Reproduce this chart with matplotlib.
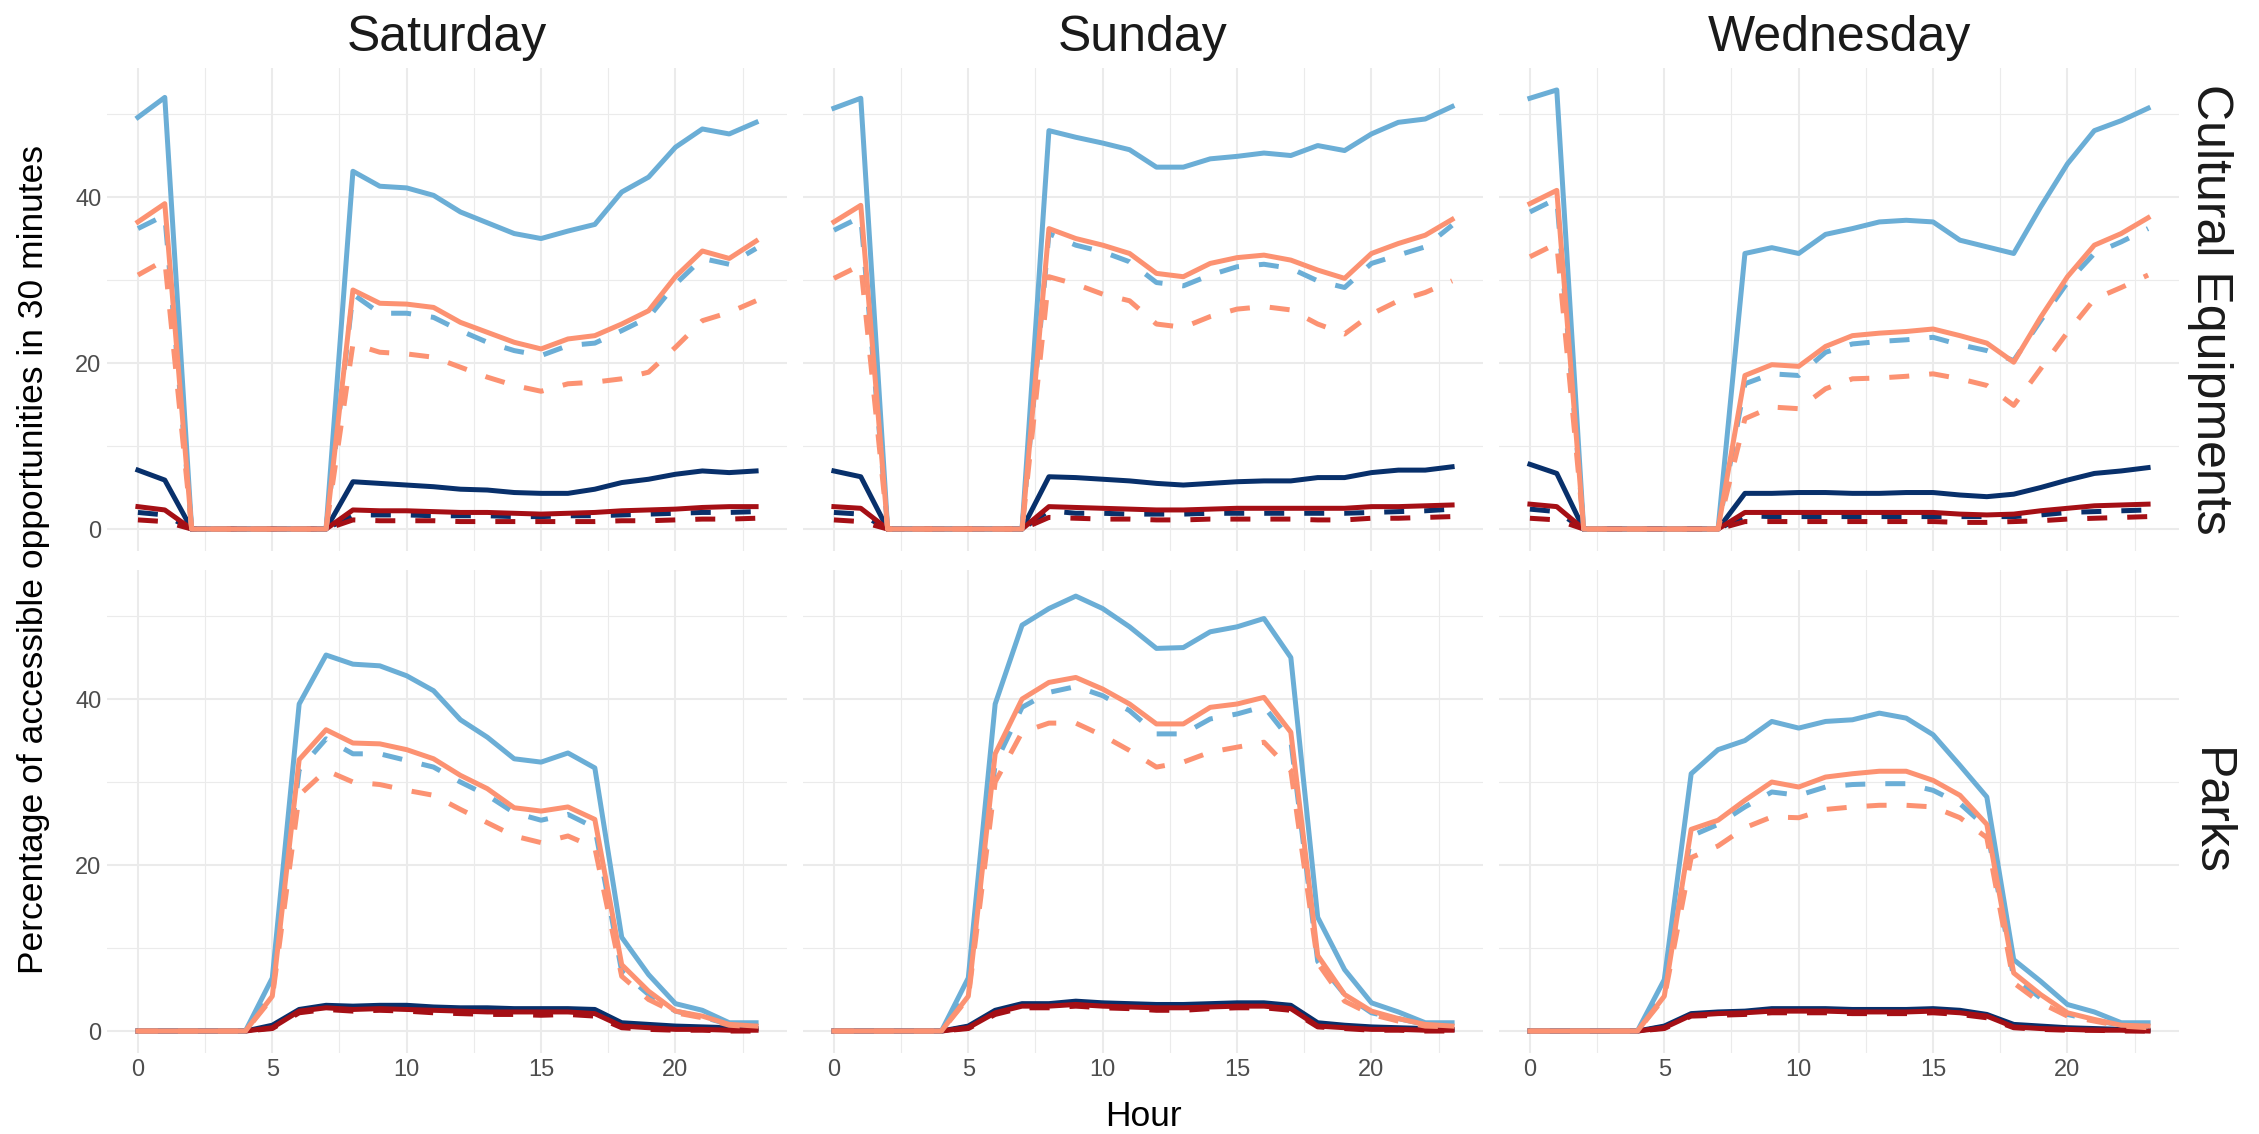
import matplotlib
matplotlib.use("Agg")
import matplotlib.pyplot as plt
from matplotlib.ticker import MultipleLocator

plt.rcParams['font.family'] = ['Liberation Sans', 'DejaVu Sans']

HOURS = list(range(24))
DAYS = ["Saturday", "Sunday", "Wednesday"]
ACTIVITIES = ["Cultural Equipments", "Parks"]

Z6 = [0, 0, 0, 0, 0, 0]
Z5 = [0, 0, 0, 0, 0]

# ---- Cultural equipments ------------------------------------------------
SAT_CULT_BLUE = [49.6, 52.0] + Z6 + [43.1, 41.3, 41.1, 40.2, 38.2, 36.9, 35.6, 35.0, 35.9, 36.7, 40.6, 42.4, 46.0, 48.2, 47.6, 49.0]
SAT_CULT_BLUE_D = [36.2, 37.8] + Z6 + [28.3, 26.0, 26.0, 25.5, 23.9, 22.5, 21.5, 20.9, 22.1, 22.4, 23.9, 25.5, 29.5, 32.6, 31.9, 33.8]
SAT_CULT_SALMON = [37.0, 39.2] + Z6 + [28.8, 27.2, 27.1, 26.7, 24.9, 23.7, 22.5, 21.7, 22.9, 23.3, 24.7, 26.3, 30.4, 33.5, 32.6, 34.7]
SAT_CULT_SALMON_D = [30.6, 32.4] + Z6 + [22.3, 21.3, 21.1, 20.7, 19.5, 18.3, 17.3, 16.6, 17.5, 17.7, 18.1, 18.9, 21.9, 25.1, 26.1, 27.5]
SAT_CULT_NAVY = [7.1, 5.9] + Z6 + [5.7, 5.5, 5.3, 5.1, 4.8, 4.7, 4.4, 4.3, 4.3, 4.8, 5.6, 6.0, 6.6, 7.0, 6.8, 7.0]
SAT_CULT_NAVY_D = [2.0, 1.7] + Z6 + [1.7, 1.7, 1.7, 1.6, 1.6, 1.6, 1.5, 1.5, 1.6, 1.6, 1.7, 1.8, 1.9, 2.0, 2.0, 2.1]
SAT_CULT_RED = [2.7, 2.3] + Z6 + [2.3, 2.2, 2.2, 2.1, 2.0, 2.0, 1.9, 1.8, 1.9, 2.0, 2.2, 2.3, 2.4, 2.6, 2.7, 2.7]
SAT_CULT_RED_D = [1.1, 0.9] + Z6 + [1.1, 1.0, 1.0, 1.0, 0.9, 0.9, 0.9, 0.9, 0.9, 0.9, 1.0, 1.0, 1.1, 1.2, 1.2, 1.3]

SUN_CULT_BLUE = [50.7, 51.9] + Z6 + [48.0, 47.2, 46.5, 45.7, 43.6, 43.6, 44.6, 44.9, 45.3, 45.0, 46.2, 45.6, 47.6, 49.0, 49.4, 50.9]
SUN_CULT_BLUE_D = [36.0, 37.6] + Z6 + [35.6, 34.2, 33.4, 32.2, 29.7, 29.3, 30.6, 31.6, 31.9, 31.4, 29.9, 29.1, 32.0, 33.0, 34.0, 36.6]
SUN_CULT_SALMON = [37.0, 39.0] + Z6 + [36.2, 35.0, 34.2, 33.2, 30.8, 30.4, 32.0, 32.7, 33.0, 32.4, 31.2, 30.2, 33.2, 34.4, 35.4, 37.3]
SUN_CULT_SALMON_D = [30.2, 31.8] + Z6 + [30.4, 29.5, 28.3, 27.5, 24.7, 24.3, 25.6, 26.5, 26.8, 26.4, 24.7, 23.5, 25.9, 27.5, 28.5, 29.9]
SUN_CULT_NAVY = [7.0, 6.3] + Z6 + [6.3, 6.2, 6.0, 5.8, 5.5, 5.3, 5.5, 5.7, 5.8, 5.8, 6.2, 6.2, 6.8, 7.1, 7.1, 7.5]
SUN_CULT_NAVY_D = [2.0, 1.8] + Z6 + [2.2, 1.9, 1.9, 1.8, 1.8, 1.8, 1.9, 1.9, 1.9, 1.9, 1.9, 1.9, 2.0, 2.1, 2.2, 2.4]
SUN_CULT_RED = [2.7, 2.5] + Z6 + [2.7, 2.6, 2.5, 2.4, 2.3, 2.3, 2.4, 2.5, 2.5, 2.5, 2.5, 2.5, 2.7, 2.7, 2.8, 2.9]
SUN_CULT_RED_D = [1.1, 0.9] + Z6 + [1.4, 1.3, 1.2, 1.2, 1.1, 1.1, 1.2, 1.2, 1.2, 1.2, 1.1, 1.1, 1.3, 1.3, 1.4, 1.5]

WED_CULT_BLUE = [51.9, 52.9] + Z6 + [33.2, 33.9, 33.2, 35.5, 36.2, 37.0, 37.2, 37.0, 34.8, 34.0, 33.2, 38.8, 44.0, 48.0, 49.2, 50.7]
WED_CULT_BLUE_D = [38.2, 39.8] + Z6 + [17.5, 18.7, 18.5, 21.3, 22.3, 22.6, 22.8, 23.1, 22.2, 21.5, 20.3, 25.1, 29.7, 33.2, 34.6, 36.2]
WED_CULT_SALMON = [39.2, 40.8] + Z6 + [18.5, 19.8, 19.6, 22.0, 23.3, 23.6, 23.8, 24.1, 23.3, 22.4, 20.1, 25.5, 30.4, 34.2, 35.6, 37.5]
WED_CULT_SALMON_D = [32.8, 34.4] + Z6 + [13.3, 14.7, 14.5, 16.9, 18.1, 18.2, 18.4, 18.7, 18.1, 17.3, 14.9, 19.3, 23.7, 27.7, 29.1, 30.6]
WED_CULT_NAVY = [7.8, 6.7] + Z6 + [4.3, 4.3, 4.4, 4.4, 4.3, 4.3, 4.4, 4.4, 4.1, 3.9, 4.2, 5.0, 5.9, 6.7, 7.0, 7.4]
WED_CULT_NAVY_D = [2.4, 2.1] + Z6 + [1.6, 1.5, 1.5, 1.5, 1.5, 1.5, 1.5, 1.5, 1.5, 1.5, 1.5, 1.7, 2.0, 2.1, 2.2, 2.3]
WED_CULT_RED = [3.0, 2.7] + Z6 + [2.0, 2.0, 2.0, 2.0, 2.0, 2.0, 2.0, 2.0, 1.8, 1.7, 1.8, 2.2, 2.5, 2.8, 2.9, 3.0]
WED_CULT_RED_D = [1.3, 1.1] + Z6 + [0.9, 0.9, 0.9, 0.9, 0.9, 0.9, 0.9, 0.9, 0.8, 0.8, 0.9, 1.0, 1.2, 1.3, 1.4, 1.5]

# ---- Parks --------------------------------------------------------------
SAT_PARK_BLUE = Z5 + [6.4, 39.4, 45.3, 44.2, 44.0, 42.8, 41.0, 37.5, 35.4, 32.8, 32.4, 33.5, 31.7, 11.3, 6.8, 3.3, 2.5, 1.0, 1.0]
SAT_PARK_BLUE_D = Z5 + [5.0, 31.5, 35.2, 33.4, 33.4, 32.6, 31.8, 30.0, 28.4, 26.3, 25.4, 26.1, 24.5, 7.2, 4.4, 2.4, 1.7, 0.8, 0.7]
SAT_PARK_SALMON = Z5 + [4.2, 32.7, 36.3, 34.7, 34.6, 33.9, 32.8, 30.8, 29.2, 26.9, 26.5, 27.0, 25.5, 8.0, 4.8, 2.4, 1.8, 0.8, 0.6]
SAT_PARK_SALMON_D = Z5 + [4.0, 28.4, 31.4, 30.0, 29.7, 29.0, 28.4, 26.7, 25.1, 23.5, 22.7, 23.5, 22.1, 6.6, 3.8, 2.2, 1.6, 0.7, 0.5]
SAT_PARK_NAVY = Z5 + [0.7, 2.6, 3.1, 3.0, 3.1, 3.1, 2.9, 2.8, 2.8, 2.7, 2.7, 2.7, 2.6, 1.0, 0.8, 0.6, 0.5, 0.4, 0.3]
SAT_PARK_NAVY_D = Z5 + [0.5, 2.4, 2.9, 2.8, 2.8, 2.8, 2.6, 2.5, 2.5, 2.4, 2.4, 2.5, 2.3, 0.7, 0.5, 0.3, 0.3, 0.2, 0.2]
SAT_PARK_RED = Z5 + [0.4, 2.4, 2.8, 2.6, 2.7, 2.6, 2.5, 2.4, 2.3, 2.3, 2.3, 2.3, 2.1, 0.6, 0.4, 0.2, 0.2, 0.1, 0.1]
SAT_PARK_RED_D = Z5 + [0.3, 2.2, 2.6, 2.4, 2.5, 2.4, 2.2, 2.1, 2.0, 2.0, 1.9, 2.0, 1.8, 0.4, 0.2, 0.1, 0.1, 0.0, 0.0]

SUN_PARK_BLUE = Z5 + [6.4, 39.4, 48.9, 50.9, 52.4, 50.9, 48.7, 46.1, 46.2, 48.1, 48.7, 49.7, 45.0, 13.7, 7.4, 3.4, 2.3, 1.0, 1.0]
SUN_PARK_BLUE_D = Z5 + [5.0, 32.2, 39.0, 40.8, 41.5, 40.4, 38.6, 35.8, 35.8, 37.6, 38.2, 39.1, 35.0, 8.4, 4.4, 2.2, 1.5, 0.8, 0.7]
SUN_PARK_SALMON = Z5 + [4.2, 33.4, 40.0, 42.0, 42.6, 41.2, 39.4, 37.0, 37.0, 39.0, 39.4, 40.2, 36.0, 9.1, 4.4, 2.4, 1.5, 0.8, 0.6]
SUN_PARK_SALMON_D = Z5 + [4.0, 30.0, 36.0, 37.1, 37.1, 35.6, 33.8, 31.8, 32.4, 33.6, 34.2, 34.8, 31.4, 8.2, 3.6, 2.0, 1.2, 0.6, 0.5]
SUN_PARK_NAVY = Z5 + [0.6, 2.5, 3.3, 3.3, 3.6, 3.4, 3.3, 3.2, 3.2, 3.3, 3.4, 3.4, 3.1, 1.0, 0.7, 0.5, 0.4, 0.3, 0.2]
SUN_PARK_NAVY_D = Z5 + [0.5, 2.3, 3.1, 3.1, 3.3, 3.2, 3.1, 3.0, 3.0, 3.1, 3.2, 3.2, 2.9, 0.8, 0.5, 0.3, 0.3, 0.2, 0.1]
SUN_PARK_RED = Z5 + [0.4, 2.2, 3.0, 3.0, 3.2, 3.0, 2.9, 2.8, 2.8, 2.9, 3.0, 3.0, 2.7, 0.6, 0.4, 0.2, 0.2, 0.1, 0.1]
SUN_PARK_RED_D = Z5 + [0.3, 2.0, 2.8, 2.8, 3.0, 2.8, 2.7, 2.5, 2.5, 2.7, 2.8, 2.8, 2.5, 0.5, 0.3, 0.1, 0.1, 0.0, 0.0]

WED_PARK_BLUE = Z5 + [6.2, 31.0, 33.9, 35.0, 37.3, 36.5, 37.3, 37.5, 38.3, 37.7, 35.7, 32.0, 28.2, 8.6, 6.0, 3.2, 2.3, 1.0, 1.0]
WED_PARK_BLUE_D = Z5 + [5.0, 23.5, 24.9, 27.0, 28.8, 28.4, 29.4, 29.7, 29.8, 29.8, 29.0, 27.4, 24.5, 6.4, 4.0, 2.0, 1.3, 0.7, 0.6]
WED_PARK_SALMON = Z5 + [4.2, 24.3, 25.4, 27.8, 30.0, 29.4, 30.6, 31.0, 31.3, 31.3, 30.2, 28.4, 24.9, 7.0, 4.4, 2.2, 1.4, 0.7, 0.6]
WED_PARK_SALMON_D = Z5 + [4.0, 20.9, 22.3, 24.5, 25.8, 25.7, 26.7, 27.0, 27.2, 27.2, 27.0, 25.7, 23.3, 5.8, 3.4, 1.8, 1.2, 0.6, 0.4]
WED_PARK_NAVY = Z5 + [0.6, 2.1, 2.3, 2.4, 2.7, 2.7, 2.7, 2.6, 2.6, 2.6, 2.7, 2.5, 2.0, 0.8, 0.6, 0.4, 0.3, 0.2, 0.1]
WED_PARK_NAVY_D = Z5 + [0.5, 1.9, 2.1, 2.2, 2.5, 2.5, 2.5, 2.4, 2.4, 2.4, 2.5, 2.3, 1.8, 0.6, 0.4, 0.3, 0.2, 0.1, 0.1]
WED_PARK_RED = Z5 + [0.4, 1.9, 2.1, 2.2, 2.4, 2.4, 2.4, 2.3, 2.3, 2.3, 2.4, 2.2, 1.8, 0.5, 0.3, 0.2, 0.1, 0.1, 0.0]
WED_PARK_RED_D = Z5 + [0.3, 1.8, 1.9, 2.0, 2.2, 2.2, 2.2, 2.1, 2.1, 2.1, 2.2, 2.0, 1.6, 0.4, 0.2, 0.1, 0.1, 0.0, 0.0]

# series in drawing order: (colour, linestyle)
STYLES = [
    ("#08306B", "-"), ("#08306B", "--"),
    ("#A50F15", "-"), ("#A50F15", "--"),
    ("#6BAED6", "-"), ("#6BAED6", "--"),
    ("#FC9272", "-"), ("#FC9272", "--"),
]

PANELS = {
    ("Cultural Equipments", "Saturday"): [SAT_CULT_NAVY, SAT_CULT_NAVY_D, SAT_CULT_RED, SAT_CULT_RED_D,
                                          SAT_CULT_BLUE, SAT_CULT_BLUE_D, SAT_CULT_SALMON, SAT_CULT_SALMON_D],
    ("Cultural Equipments", "Sunday"): [SUN_CULT_NAVY, SUN_CULT_NAVY_D, SUN_CULT_RED, SUN_CULT_RED_D,
                                        SUN_CULT_BLUE, SUN_CULT_BLUE_D, SUN_CULT_SALMON, SUN_CULT_SALMON_D],
    ("Cultural Equipments", "Wednesday"): [WED_CULT_NAVY, WED_CULT_NAVY_D, WED_CULT_RED, WED_CULT_RED_D,
                                           WED_CULT_BLUE, WED_CULT_BLUE_D, WED_CULT_SALMON, WED_CULT_SALMON_D],
    ("Parks", "Saturday"): [SAT_PARK_NAVY, SAT_PARK_NAVY_D, SAT_PARK_RED, SAT_PARK_RED_D,
                            SAT_PARK_BLUE, SAT_PARK_BLUE_D, SAT_PARK_SALMON, SAT_PARK_SALMON_D],
    ("Parks", "Sunday"): [SUN_PARK_NAVY, SUN_PARK_NAVY_D, SUN_PARK_RED, SUN_PARK_RED_D,
                          SUN_PARK_BLUE, SUN_PARK_BLUE_D, SUN_PARK_SALMON, SUN_PARK_SALMON_D],
    ("Parks", "Wednesday"): [WED_PARK_NAVY, WED_PARK_NAVY_D, WED_PARK_RED, WED_PARK_RED_D,
                             WED_PARK_BLUE, WED_PARK_BLUE_D, WED_PARK_SALMON, WED_PARK_SALMON_D],
}

W, H = 2259, 1134
fig = plt.figure(figsize=(W / 100, H / 100), dpi=100)

# panel geometry in pixels
left0, pw, gap = 107, 680, 16
tops, ph = [68, 570], 483

ymax = max(max(v) for s in PANELS.values() for v in s)
ylo, yhi = -0.05 * ymax, 1.05 * ymax

for r, act in enumerate(ACTIVITIES):
    for c, day in enumerate(DAYS):
        x0 = left0 + c * (pw + gap)
        ax = fig.add_axes([x0 / W, 1 - (tops[r] + ph) / H, pw / W, ph / H])
        for vals, (col, ls) in zip(PANELS[(act, day)], STYLES):
            dash = (0, (4, 4)) if ls == "--" else "-"
            ax.plot(HOURS, vals, color=col, linestyle=dash, lw=3.6,
                    solid_joinstyle="round", dash_capstyle="butt")
        ax.set_xlim(-1.15, 24.15)
        ax.set_ylim(ylo, yhi)
        ax.xaxis.set_major_locator(MultipleLocator(5))
        ax.xaxis.set_minor_locator(MultipleLocator(2.5))
        ax.yaxis.set_major_locator(MultipleLocator(20))
        ax.yaxis.set_minor_locator(MultipleLocator(10))
        ax.grid(which="major", color="#EBEBEB", lw=1.5)
        ax.grid(which="minor", color="#EBEBEB", lw=0.8)
        ax.set_axisbelow(True)
        for sp in ax.spines.values():
            sp.set_visible(False)
        ax.tick_params(which="both", length=0, labelsize=17, colors="#4D4D4D", pad=4)
        if c > 0:
            ax.set_yticklabels([])
        if r == 0:
            ax.set_xticklabels([])
            ax.set_title(day, fontsize=36, color="#1A1A1A", pad=12)
        if c == 2:
            ax.text(1.045, 0.5, act, transform=ax.transAxes, rotation=-90,
                    fontsize=36, color="#1A1A1A", ha="center", va="center")

fig.text(34 / W, 1 - 560 / H, "Percentage of accessible opportunities in 30 minutes",
         rotation=90, fontsize=25.5, color="#000000", ha="center", va="center")
fig.text(1143 / W, 1 - 1116 / H, "Hour", fontsize=25.5, color="#000000",
         ha="center", va="center")

fig.savefig("out.png", dpi=100, facecolor="white")
